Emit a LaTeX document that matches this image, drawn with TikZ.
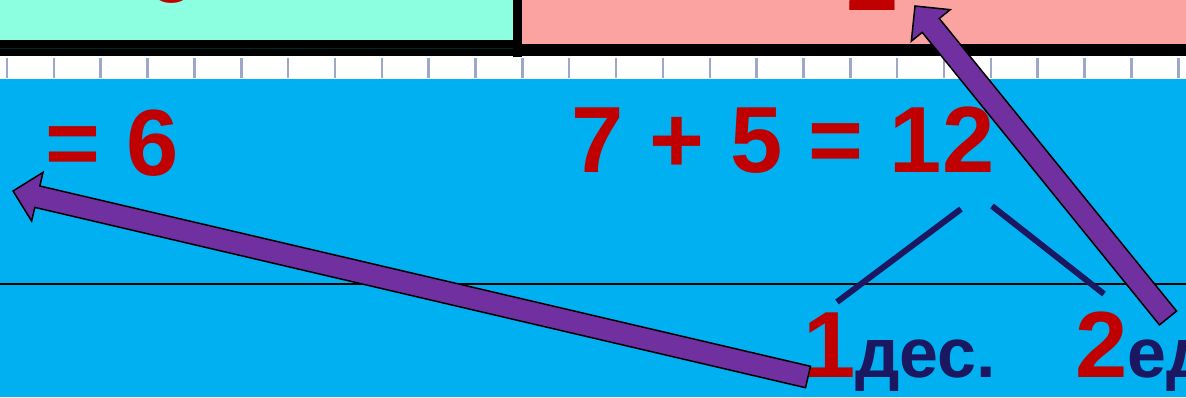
\documentclass[tikz,border=0pt]{standalone}
\usepackage{fontspec}
\setmainfont{Liberation Sans}
\usepackage{tikz}
\usetikzlibrary{calc}
\usepackage{xcolor}
\definecolor{sky}{HTML}{00B0F0}
\definecolor{mint}{HTML}{8CFFE0}
\definecolor{salmon}{HTML}{FBA3A0}
\definecolor{crimson}{HTML}{C00000}
\definecolor{ink}{HTML}{1B1760}
\definecolor{plum}{HTML}{7030A0}
\definecolor{ruler}{HTML}{9DA8C9}
\tikzset{digits/.style={inner sep=0pt,anchor=base west,text=crimson,font=\bfseries\fontsize{94}{94}\selectfont},branch/.style={draw=ink,line width=6pt},barrow/.style={fill=plum,draw=black,line width=1.5pt,line join=miter},bar/.style={fill=black}}
\newcommand{\unitsize}{\fontsize{70}{70}\selectfont\color{ink}}
\newcommand{\blockarrow}[2]{\coordinate (hb) at ($(#2)!25pt!(#1)$);
\draw[barrow] ($(#1)!11pt!90:(#2)$) -- ($(hb)!11pt!90:(#2)$) -- ($(hb)!25pt!90:(#2)$) -- (#2) -- ($(hb)!25pt!-90:(#2)$) -- ($(hb)!11pt!-90:(#2)$) -- ($(#1)!11pt!-90:(#2)$) -- cycle;}

\begin{document}
\begin{tikzpicture}[x=1pt,y=-1pt]
\useasboundingbox (0,0) rectangle (1186,397);
\clip (0,0) rectangle (1186,397);
% slide background
\fill[sky] (0,79) rectangle (1186,397);
\fill[white] (0,57) rectangle (1186,79);
\foreach \i in {0,...,25} \draw[ruler,line width=2.5pt] ({7+46.85*\i},58) -- ({7+46.85*\i},78);
\fill[mint] (0,0) rectangle (513,40);
\fill[salmon] (522,0) rectangle (1186,44);
\fill[bar] (0,40) rectangle (513,56);\fill[bar] (522,44) rectangle (1186,56);\fill[bar] (513,0) rectangle (522,57);
\draw[black!70!teal,line width=.6pt] (0,48.5) -- (513,48.5);
\node[digits] (topsix) at (144,2) {6};
\node[digits] (toptwo) at (846,10) {2};
% example and split
\node[digits] (six) at (45,175.5) {= 6};
\node[digits] (sum) at (571,172) {7 + 5 = 12};
\node[digits] (tens) at (803,377) {1\unitsize дес.};
\node[digits] (ones) at (1075,377) {2\unitsize ед.};
\draw[black,line width=1.5pt] (0,284) -- (1186,284);
\coordinate (tl) at (961,209);\coordinate (tr) at (992,206);
\coordinate (bl) at (837,302);\coordinate (br) at (1104,294);
\draw[branch] (tl) -- (bl);\draw[branch] (tr) -- (br);
% arrows
\coordinate (a1) at (808,377);\coordinate (a1t) at (13,191);
\coordinate (a2) at (1168,318);\coordinate (a2t) at (915,6);
\blockarrow{a1}{a1t}
\blockarrow{a2}{a2t}
\end{tikzpicture}
\end{document}
